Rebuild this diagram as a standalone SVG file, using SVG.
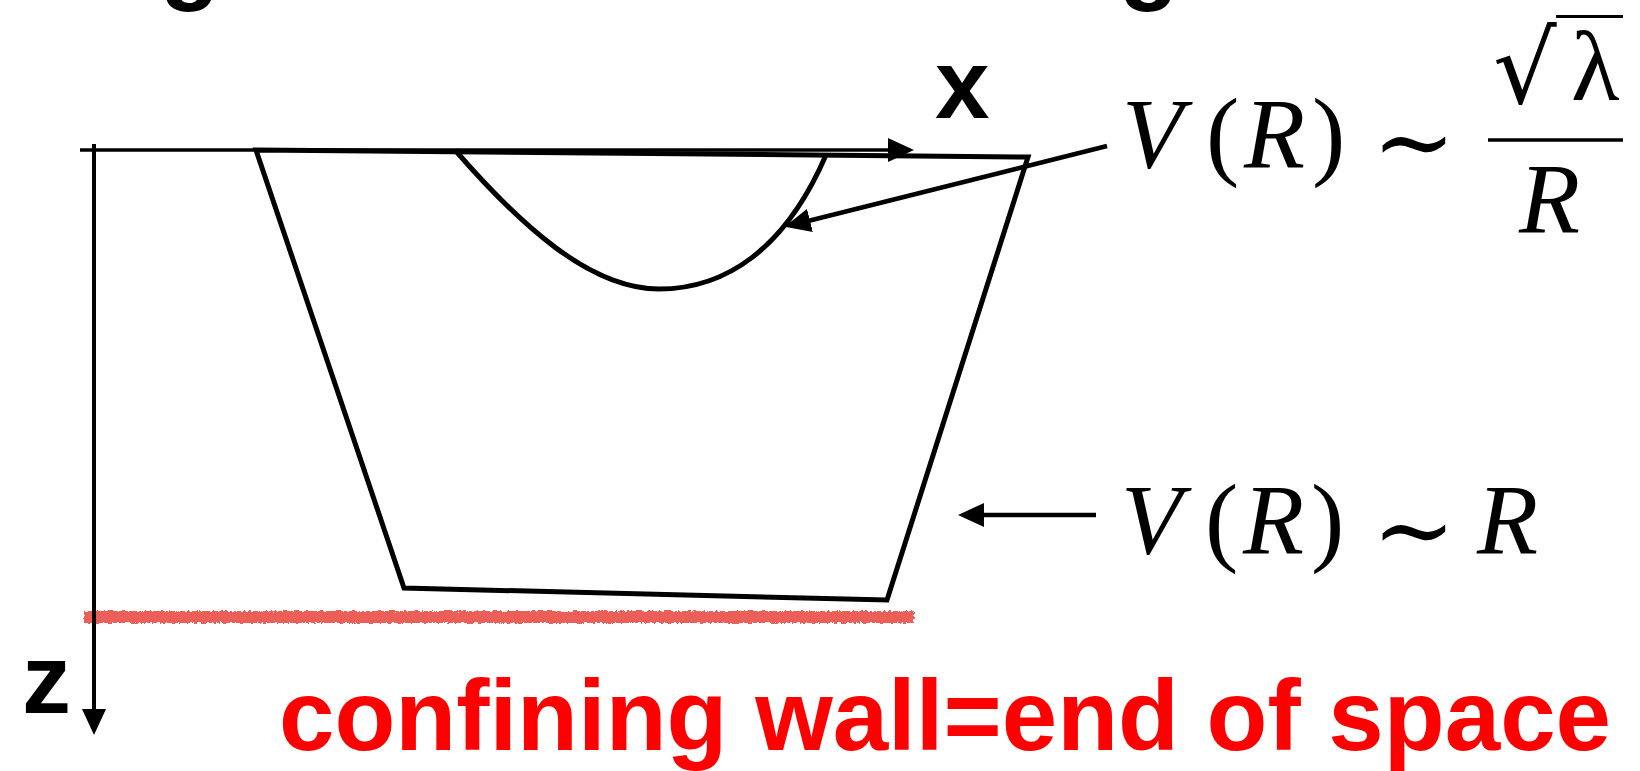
<svg xmlns="http://www.w3.org/2000/svg" width="1640" height="771" viewBox="0 0 1640 771">
<style>
.ln{fill:none;stroke:#000;stroke-linecap:butt;stroke-linejoin:miter}
.lbl{font-family:"Liberation Sans",Arial,sans-serif;font-weight:bold;font-size:98px;fill:#000}
.m{font-family:"Liberation Serif","Times New Roman",serif;font-size:100px;fill:#000}
.it{font-style:italic}
.sim{font-family:"DejaVu Serif",serif;font-size:100px;fill:#000}
.red{font-family:"Liberation Sans",Arial,sans-serif;font-weight:bold;font-size:100px;fill:#ff0000}
</style>
<defs>
<marker id="ah" viewBox="0 0 26 24" refX="1" refY="12" markerWidth="26" markerHeight="24" markerUnits="userSpaceOnUse" orient="auto">
<path d="M0,0 L26,12 L0,24 z" fill="#000"/>
</marker>
<filter id="rough" filterUnits="userSpaceOnUse" x="70" y="600" width="860" height="35">
<feTurbulence type="fractalNoise" baseFrequency="0.4" numOctaves="2" seed="3" result="n"/>
<feDisplacementMap in="SourceGraphic" in2="n" scale="5" xChannelSelector="R" yChannelSelector="G"/>
</filter>
</defs>
<rect width="1640" height="771" fill="#fff"/>
<g id="heading-cut">
<text class="lbl" x="160" y="-8" font-size="100">g</text>
<text class="lbl" x="1119" y="-8" font-size="100">g</text>
</g>
<g id="trapezoid">
<polygon class="ln" stroke-width="5" points="256,150 1028,157 887,600 404,588"/>
</g>
<g id="potential-curve">
<path class="ln" stroke-width="5" d="M455,150 C520,225 590,289 659,289 C725,289 785,250 826,155"/>
</g>
<g id="wall">
<rect x="84" y="611" width="830" height="12" fill="#ec5e58" filter="url(#rough)"/>
</g>
<g id="connectors">
<line class="ln" stroke-width="3.5" x1="80" y1="150" x2="889" y2="150" marker-end="url(#ah)"/>
<line class="ln" stroke-width="4" x1="94" y1="144" x2="94" y2="710" marker-end="url(#ah)"/>
<line class="ln" stroke-width="4.5" x1="1107" y1="146" x2="809" y2="220.7" marker-end="url(#ah)"/>
<line class="ln" stroke-width="4.5" x1="1096" y1="515" x2="983" y2="515" marker-end="url(#ah)"/>
</g>
<g id="label-x"><text class="lbl" x="935" y="118">x</text></g>
<g id="label-z"><text class="lbl" x="22" y="713">z</text></g>
<g id="formula-top">
<text class="m it" x="1122" y="167">V</text>
<text class="m" x="1206" y="167">(</text>
<text class="m it" x="1244" y="167">R</text>
<text class="m" x="1312" y="167">)</text>
<text class="sim" x="1372" y="176">∼</text>
<text class="sim" x="1493" y="103" font-size="190">√</text>
<line x1="1556" y1="16.5" x2="1623" y2="16.5" stroke="#000" stroke-width="3"/>
<text class="m" x="1571" y="100">λ</text>
<line x1="1488" y1="140" x2="1623" y2="140" stroke="#000" stroke-width="3.5"/>
<text class="m it" x="1519" y="232">R</text>
</g>
<g id="formula-bottom">
<text class="m it" x="1121" y="553">V</text>
<text class="m" x="1205" y="553">(</text>
<text class="m it" x="1243" y="553">R</text>
<text class="m" x="1311" y="553">)</text>
<text class="sim" x="1372" y="564">∼</text>
<text class="m it" x="1477" y="553">R</text>
</g>
<g id="caption">
<text class="red" x="279" y="750" textLength="1332" lengthAdjust="spacingAndGlyphs">confining wall=end of space</text>
</g>
</svg>
